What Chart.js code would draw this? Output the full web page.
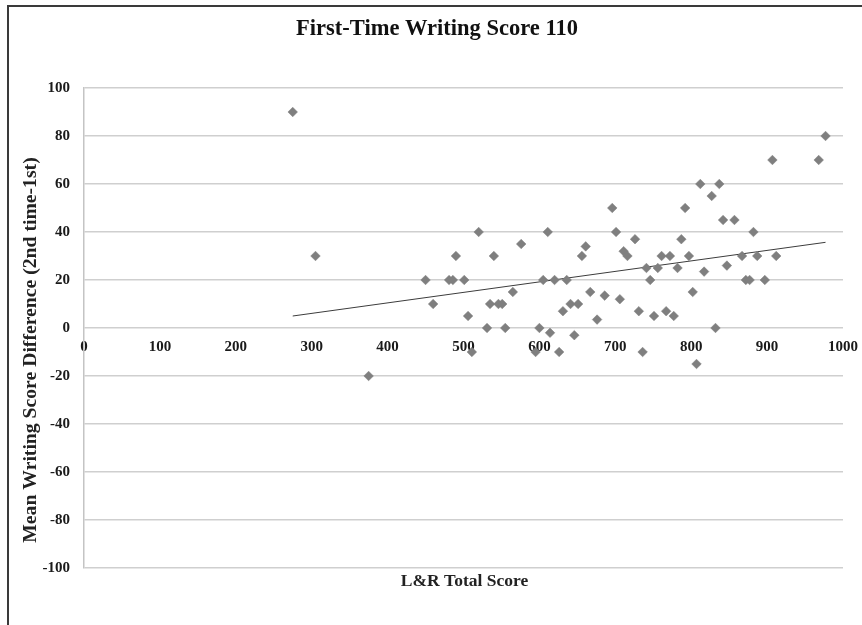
<!DOCTYPE html>
<html>
<head>
<meta charset="utf-8">
<script src="https://cdn.jsdelivr.net/npm/chart.js@4.4.1/dist/chart.umd.min.js"></script>
<style>
	html, body { margin: 0; padding: 0; background: #fff; overflow: hidden; }
	#wrap { position: relative; width: 862px; height: 625px; }
	#frame {
		position: absolute; left: 7px; top: 5px; width: 900px; height: 700px;
		border-left: 2px solid #3a3a3a; border-top: 2px solid #3a3a3a;
	}
	canvas { position: absolute; left: 0; top: 0; }
</style>
</head>
<body>
<div id="wrap">
	<div id="frame"></div>
	<canvas id="chart" width="862" height="625"></canvas>
</div>
<script>
// L&R total score (x) and mean writing score difference (y)
const lrScores = [
	275, 305, 375, 450, 460, 481, 486, 490, 501, 506,
	511, 520, 531, 535, 540, 546, 551, 555, 565, 576,
	595, 600, 605, 611, 614, 620, 626, 631, 636, 641,
	646, 651, 656, 661, 667, 676, 686, 696, 701, 706,
	711, 716, 726, 731, 736, 741, 746, 751, 756, 761,
	767, 772, 777, 782, 787, 792, 797, 802, 807, 812,
	817, 827, 832, 837, 842, 847, 857, 867, 872, 877,
	882, 887, 897, 907, 912, 968, 977
];
const writingDiffs = [
	90, 30, -20, 20, 10, 20, 20, 30, 20, 5,
	-10, 40, 0, 10, 30, 10, 10, 0, 15, 35,
	-10, 0, 20, 40, -2, 20, -10, 7, 20, 10,
	-3, 10, 30, 34, 15, 3.5, 13.5, 50, 40, 12,
	32, 30, 37, 7, -10, 25, 20, 5, 25, 30,
	7, 30, 5, 25, 37, 50, 30, 15, -15, 60,
	23.5, 55, 0, 60, 45, 26, 45, 30, 20, 20,
	40, 30, 20, 70, 30, 70, 80
];
// linear trendline end points
const trendX = [275, 977];
const trendY = [5, 35.7];

const xTicks = { min: 0, max: 1000, step: 100 };
const yTicks = { min: -100, max: 100, step: 20 };

const chartTitle = 'First-Time Writing Score 110';
const xTitle = 'L&R Total Score';
const yTitle = 'Mean Writing Score Difference (2nd time-1st)';

const SERIF = '"Liberation Serif", "Times New Roman", serif';

const points = lrScores.map((x, i) => ({ x: x, y: writingDiffs[i] }));
const trend = trendX.map((x, i) => ({ x: x, y: trendY[i] }));

// titles are drawn by hand so they sit where the original puts them
const captions = {
	id: 'captions',
	afterDraw(chart) {
		const ctx = chart.ctx;
		const area = chart.chartArea;
		ctx.save();
		ctx.textAlign = 'center';
		ctx.textBaseline = 'middle';

		ctx.fillStyle = '#111';
		ctx.font = 'bold 22.5px ' + SERIF;
		ctx.fillText(chartTitle, 437, 29);

		ctx.fillStyle = '#222';
		ctx.font = 'bold 17.5px ' + SERIF;
		ctx.fillText(xTitle, (area.left + area.right) / 2 + 1, 581);

		ctx.translate(31, 350);
		ctx.rotate(-Math.PI / 2);
		ctx.font = 'bold 19.7px ' + SERIF;
		ctx.fillText(yTitle, 0, 0);
		ctx.restore();
	}
};

new Chart(document.getElementById('chart'), {
	type: 'scatter',
	data: {
		datasets: [{
			label: 'Scores',
			data: points,
			pointStyle: 'rectRot',
			pointRadius: 4.8,
			pointHoverRadius: 4.8,
			backgroundColor: '#7f7f7f',
			borderColor: '#7f7f7f',
			borderWidth: 0.5
		}, {
			label: 'Linear',
			type: 'line',
			data: trend,
			borderColor: '#3c3c3c',
			borderWidth: 1,
			pointRadius: 0,
			fill: false
		}]
	},
	options: {
		responsive: false,
		animation: false,
		layout: { padding: { left: 10, right: 19, top: 88, bottom: 57 } },
		plugins: {
			legend: { display: false },
			tooltip: { enabled: false },
			title: { display: false }
		},
		scales: {
			x: {
				type: 'linear',
				position: { y: 0 },
				min: xTicks.min,
				max: xTicks.max,
				grid: { display: false },
				border: { display: false },
				ticks: {
					stepSize: xTicks.step,
					padding: 2,
					maxRotation: 0,
					color: '#1a1a1a',
					font: { family: SERIF, size: 15, weight: 'bold' },
					callback: (v) => String(v)
				}
			},
			y: {
				min: yTicks.min,
				max: yTicks.max,
				afterFit: (scale) => { scale.width = 74; },
				grid: { color: '#cfcfcf', lineWidth: 1.5, drawTicks: false },
				border: { display: true, color: '#c4c4c4', width: 1.5 },
				ticks: {
					stepSize: yTicks.step,
					padding: 14,
					color: '#1a1a1a',
					font: { family: SERIF, size: 15, weight: 'bold' }
				}
			}
		}
	},
	plugins: [captions]
});
</script>
</body>
</html>
